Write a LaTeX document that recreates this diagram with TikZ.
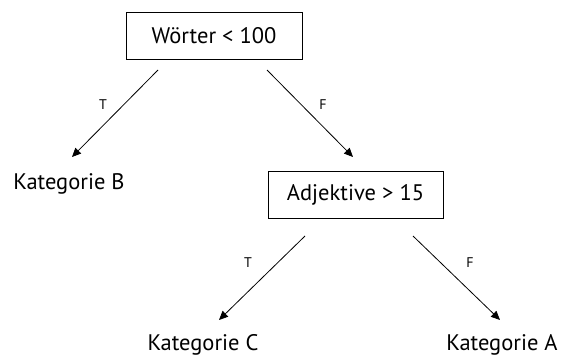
\documentclass[tikz,border=0pt]{standalone}
\usepackage{fontspec}
\setmainfont{PT Sans}
\usetikzlibrary{arrows.meta}
\begin{document}
\begin{tikzpicture}[x=1pt,y=-1pt,
  test/.style={draw, line width=0.8pt, minimum width=176pt, minimum height=47pt, inner sep=0pt, font=\fontsize{22.5}{26}\selectfont},
  leaf/.style={inner sep=0pt, font=\fontsize{22.5}{26}\selectfont},
  edge/.style={line width=0.8pt, -{Triangle[length=9pt,width=8pt]}},
  lbl/.style={font=\fontsize{14}{16}\selectfont}]
\useasboundingbox (0,0) rectangle (564,356);
% decision nodes
\node[test] (root) at (214,35.5) {Wörter < 100};
\node[test, minimum width=175pt] (adj) at (355.5,195) {Adjektive > 15};
% leaves
\node[leaf] (katB) at (69,184) {Kategorie B};
\node[leaf] (katC) at (203,345) {Kategorie C};
\node[leaf] (katA) at (502,345) {Kategorie A};
% connector end points
\coordinate (rT) at (158,70);
\coordinate (bT) at (72,157);
\coordinate (rF) at (267,70);
\coordinate (aF) at (353,157);
\coordinate (adjT) at (305,236);
\coordinate (cT) at (219,320);
\coordinate (adjF) at (413,236);
\coordinate (aA) at (500,320);
% branches
\draw[edge] (rT) -- (bT);
\draw[edge] (rF) -- (aF);
\draw[edge] (adjT) -- (cT);
\draw[edge] (adjF) -- (aA);
% branch labels
\node[lbl] (t1) at (103,105) {T};
\node[lbl] (f1) at (323,105) {F};
\node[lbl] (t2) at (248,263) {T};
\node[lbl] (f2) at (470,263) {F};
\end{tikzpicture}
\end{document}
